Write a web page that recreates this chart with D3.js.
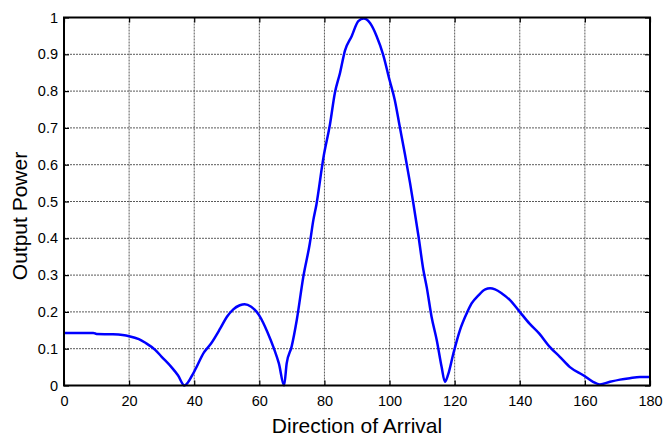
<!DOCTYPE html>
<html><head><meta charset="utf-8">
<script src="https://cdn.jsdelivr.net/npm/d3@7"></script>
<style>body{margin:0;background:#fff}svg{display:block}text{font-family:"Liberation Sans",Arial,sans-serif}</style>
</head><body>
<svg id="c" width="665" height="436"></svg>
<script>
const angles = [0,5,9,10,15,18,20,23,25,28,30,33,35,37,40,43,45,48,50,52,54,55.5,57.5,60,62.5,64.5,66,67.6,68.4,69.9,71.5,73.5,75.5,76.6,77.5,79.7,81.7,83.2,84.8,86.3,88.4,90.4,92.1,94,96,98,100,101.6,103.1,104.7,106.3,107.4,108.9,110.4,111.4,112.9,114.5,116,117,118,119.6,121.6,123.7,125.2,127.3,129.4,130.9,132.4,134.5,137,140,143,146,149.2,152.3,155.4,159.5,162.5,164.6,167.7,170.8,173.8,176.9,180];
const power = [0.143,0.143,0.143,0.140,0.139,0.137,0.134,0.126,0.116,0.097,0.078,0.050,0.028,0.0,0.038,0.09,0.112,0.155,0.186,0.207,0.218,0.221,0.214,0.19,0.145,0.1,0.06,0.0,0.06,0.105,0.178,0.295,0.386,0.45,0.49,0.62,0.71,0.795,0.85,0.91,0.95,0.99,0.997,0.985,0.95,0.9,0.83,0.776,0.705,0.63,0.55,0.49,0.405,0.313,0.268,0.187,0.123,0.05,0.01,0.03,0.087,0.15,0.196,0.223,0.245,0.261,0.264,0.261,0.25,0.232,0.2,0.168,0.141,0.105,0.078,0.05,0.028,0.01,0.003,0.01,0.016,0.02,0.023,0.023];
const xTicks = [0,20,40,60,80,100,120,140,160,180];
const yTicks = [0,0.1,0.2,0.3,0.4,0.5,0.6,0.7,0.8,0.9,1];
const xLabel = "Direction of Arrival";
const yLabel = "Output Power";

const L=64,R=650,T=17.5,B=385.5;
const svg=d3.select("#c");
const x=d3.scaleLinear().domain([0,180]).range([L,R]);
const y=d3.scaleLinear().domain([0,1]).range([B,T]);

// grid
const g=svg.append("g");
g.selectAll(".gx").data(xTicks.slice(1,-1)).join("line")
 .attr("x1",d=>x(d)).attr("x2",d=>x(d)).attr("y1",T).attr("y2",B)
 .attr("stroke","#5a5a5a").attr("stroke-width",1).attr("stroke-dasharray","2,1");
g.selectAll(".gy").data(yTicks.slice(1,-1)).join("line")
 .attr("y1",d=>y(d)).attr("y2",d=>y(d)).attr("x1",L).attr("x2",R)
 .attr("stroke","#5a5a5a").attr("stroke-width",1).attr("stroke-dasharray","2,1");

// axes
const fmt=d=>d===0?"0":d===1?"1":d3.format(".1f")(d);
const ax=svg.append("g").attr("transform",`translate(0,${B})`)
 .call(d3.axisBottom(x).tickValues(xTicks).tickSize(-5).tickPadding(10).tickFormat(d3.format("d")));
const axTop=svg.append("g").attr("transform",`translate(0,${T})`)
 .call(d3.axisTop(x).tickValues(xTicks).tickSize(-5).tickFormat(""));
const ay=svg.append("g").attr("transform",`translate(${L},0)`)
 .call(d3.axisLeft(y).tickValues(yTicks).tickSize(-5).tickPadding(10).tickFormat(fmt));
const ayR=svg.append("g").attr("transform",`translate(${R},0)`)
 .call(d3.axisRight(y).tickValues(yTicks).tickSize(-5).tickFormat(""));
[ax,axTop,ay,ayR].forEach(a=>{
  a.select(".domain").remove();
  a.selectAll("line").attr("stroke","#000").attr("stroke-width",1.2);
  a.selectAll("text").attr("font-size",14.5).attr("fill","#000").attr("font-family","'Liberation Sans',Arial,sans-serif");
});
ay.selectAll("text").attr("dx",4);
ax.selectAll("text").attr("dy","0.71em");

// curve
svg.append("path").datum(angles.map((a,i)=>[a,power[i]]))
 .attr("fill","none").attr("stroke","#0000ff").attr("stroke-width",2.5)
 .attr("stroke-linejoin","round")
 .attr("d",d3.line().x(d=>x(d[0])).y(d=>y(d[1])).curve(d3.curveMonotoneX));

// box
svg.append("rect").attr("x",L).attr("y",T).attr("width",R-L).attr("height",B-T)
 .attr("fill","none").attr("stroke","#000").attr("stroke-width",2);

// labels
svg.append("text").attr("x",(L+R)/2).attr("y",433).attr("text-anchor","middle")
 .attr("font-size",21).attr("fill","#000").text(xLabel);
svg.append("text").attr("transform","translate(27,216) rotate(-90)").attr("text-anchor","middle")
 .attr("font-size",21).attr("fill","#000").text(yLabel);
</script>
</body></html>
